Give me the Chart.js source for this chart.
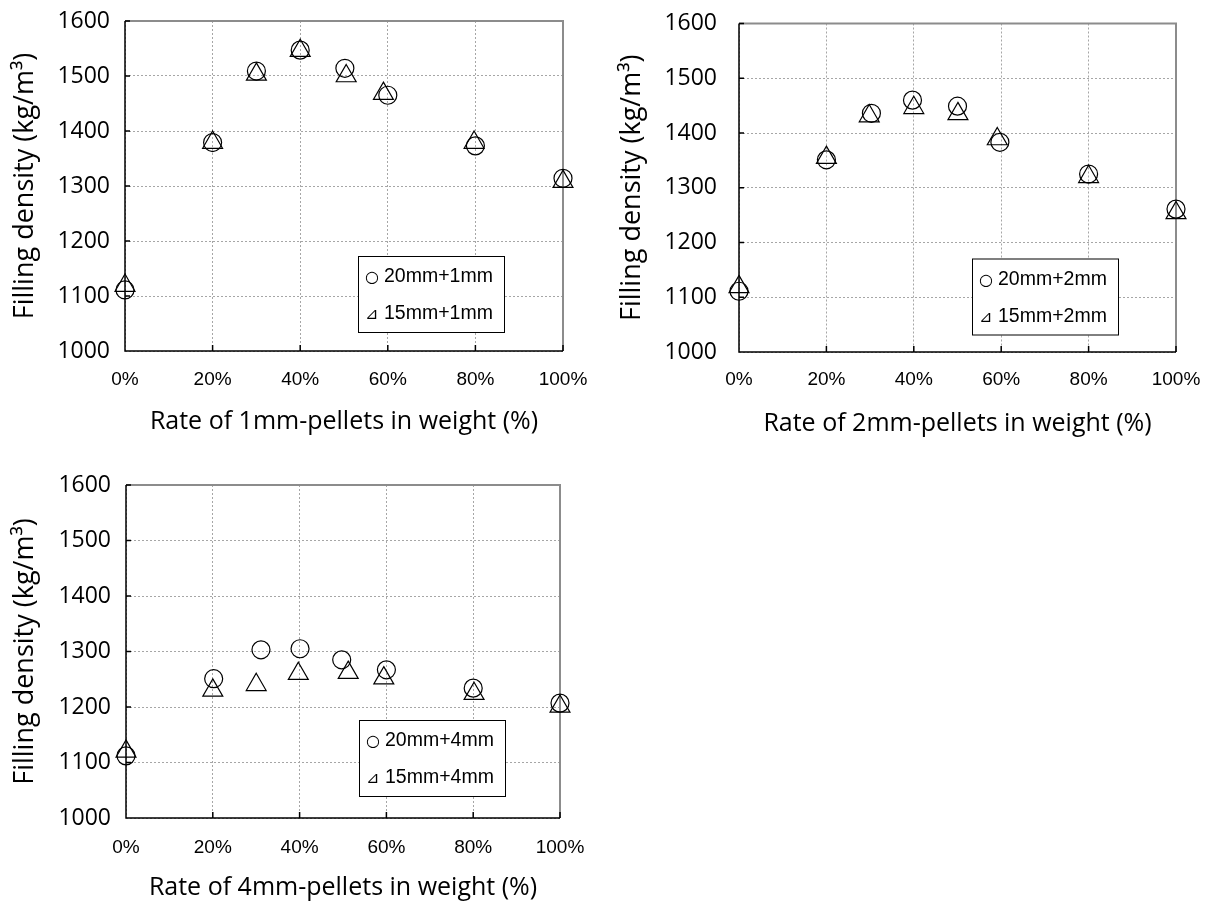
<!DOCTYPE html>
<html>
<head>
<meta charset="utf-8">
<script src="https://cdn.jsdelivr.net/npm/chart.js@4.4.1/dist/chart.umd.min.js"></script>
<style>
body { margin: 0; background: #fff; width: 1206px; height: 903px; position: relative; overflow: hidden; }
canvas { position: absolute; }
</style>
</head>
<body>
<canvas id="c1" width="600" height="450" style="left:0;top:0"></canvas>
<canvas id="c2" width="600" height="450" style="left:606px;top:0"></canvas>
<canvas id="c3" width="600" height="443" style="left:0;top:460px"></canvas>
<script>
// values (x = rate in %, y = filling density kg/m3)
const yTicks = [1000, 1100, 1200, 1300, 1400, 1500, 1600];
const xTicks = [0, 20, 40, 60, 80, 100];

// 1 mm pellets
const x20_1 = [0, 20, 30, 40, 50.2, 60, 80, 100];
const y20_1 = [1111, 1379, 1509, 1547, 1514, 1465, 1373, 1314];
const x15_1 = [0, 20, 30, 40, 50.5, 59, 79.7, 100];
const y15_1 = [1119, 1379, 1503, 1546, 1500, 1468, 1379, 1308];
const labels_1 = ["20mm+1mm", "15mm+1mm"];

// 2 mm pellets
const x20_2 = [0, 20, 30.3, 39.7, 50, 59.7, 80, 100];
const y20_2 = [1111, 1351, 1436, 1460, 1449, 1383, 1325, 1261];
const x15_2 = [0, 20, 29.8, 40, 50.1, 59.1, 80, 100];
const y15_2 = [1119, 1355, 1431, 1446, 1435, 1389, 1320, 1254];
const labels_2 = ["20mm+2mm", "15mm+2mm"];

// 4 mm pellets
const x20_4 = [0, 20.2, 31.1, 40.1, 49.7, 60, 80, 100];
const y20_4 = [1112, 1251, 1303, 1305, 1285, 1267, 1234, 1207];
const x15_4 = [0, 20, 30, 39.7, 51.2, 59.4, 80.2, 100];
const y15_4 = [1120, 1230, 1240, 1260, 1262, 1252, 1224, 1201];
const labels_4 = ["20mm+4mm", "15mm+4mm"];

const symbols = ["○", "⊿"];

function pts(xs, ys) {
    return xs.map((x, i) => ({ x: x, y: ys[i] }));
}

// frame (left/bottom black, top/right gray) with short inside ticks
const framePlugin = {
    id: "frame",
    beforeDatasetsDraw(chart) {
        const a = chart.chartArea;
        const ctx = chart.ctx;
        const xs = chart.scales.x, ys = chart.scales.y;
        ctx.save();
        ctx.strokeStyle = "#8c8c8c";
        ctx.lineWidth = 2;
        ctx.beginPath();
        ctx.moveTo(a.left, a.top);
        ctx.lineTo(a.right, a.top);
        ctx.lineTo(a.right, a.bottom);
        ctx.stroke();
        ctx.strokeStyle = "#000";
        ctx.lineWidth = 1.5;
        ctx.beginPath();
        ctx.moveTo(a.left, a.top);
        ctx.lineTo(a.left, a.bottom);
        ctx.lineTo(a.right, a.bottom);
        xTicks.forEach(v => {
            const px = xs.getPixelForValue(v);
            ctx.moveTo(px, a.bottom);
            ctx.lineTo(px, a.bottom - 6);
        });
        yTicks.forEach(v => {
            const py = ys.getPixelForValue(v);
            ctx.moveTo(a.left, py);
            ctx.lineTo(a.left + 5, py);
        });
        ctx.stroke();
        ctx.restore();
    }
};

// text box legend inside the plot
const boxLegend = {
    id: "boxLegend",
    afterDatasetsDraw(chart, args, opts) {
        const a = chart.chartArea;
        const ctx = chart.ctx;
        const bx = a.left + opts.left, by = a.top + opts.top;
        ctx.save();
        ctx.fillStyle = "#fff";
        ctx.fillRect(bx, by, opts.width, opts.height);
        ctx.strokeStyle = "#000";
        ctx.lineWidth = 1;
        ctx.strokeRect(bx + 0.5, by + 0.5, opts.width, opts.height);
        ctx.fillStyle = "#000";
        ctx.textBaseline = "middle";
        chart.data.datasets.forEach((ds, i) => {
            const ty = by + opts.rows[i];
            ctx.font = "16px 'DejaVu Sans'";
            ctx.fillText(symbols[i], bx + 7, ty + 1);
            ctx.font = "19.5px 'Liberation Sans'";
            ctx.fillText(ds.label, bx + 26, ty);
        });
        ctx.restore();
    }
};

function makeChart(id, xTitle, s20, s15, labels, lay) {
    const ctx = document.getElementById(id).getContext("2d");
    return new Chart(ctx, {
        type: "scatter",
        data: {
            datasets: [{
                label: labels[0],
                data: s20,
                pointStyle: "circle",
                pointRadius: 9,
                borderColor: "#000",
                backgroundColor: "transparent",
                borderWidth: 1.2,
                clip: false
            }, {
                label: labels[1],
                data: s15,
                pointStyle: "triangle",
                pointRadius: 11.5,
                borderColor: "#000",
                backgroundColor: "transparent",
                borderWidth: 1.2,
                clip: false
            }]
        },
        plugins: [framePlugin, boxLegend],
        options: {
            responsive: false,
            animation: false,
            layout: { autoPadding: false, padding: { left: 0, top: lay.top, right: lay.right, bottom: 0 } },
            plugins: {
                legend: { display: false },
                tooltip: { enabled: false },
                boxLegend: { left: 233, top: 235, width: 146, height: 76, rows: [21, 58] }
            },
            scales: {
                x: {
                    type: "linear",
                    min: 0,
                    max: 100,
                    afterFit: s => {
                        s.height = lay.xHeight;
                        s.paddingLeft = 0;
                        s.paddingRight = 0;
                    },
                    afterBuildTicks: s => { s.ticks = xTicks.map(v => ({ value: v })); },
                    grid: { color: "#a6a6a6", lineWidth: 1, drawTicks: false },
                    border: { display: false, dash: [2, 2] },
                    ticks: {
                        padding: lay.xTickPad,
                        color: "#000",
                        font: { family: "'Liberation Sans'", size: 19 },
                        maxRotation: 0,
                        callback: v => v + "%"
                    },
                    title: {
                        display: true,
                        text: xTitle,
                        color: "#000",
                        font: { family: "'Open Sans'", size: 25 },
                        padding: { top: 0, bottom: lay.xTitlePad }
                    }
                },
                y: {
                    min: 1000,
                    max: 1600,
                    afterFit: s => {
                        s.width = lay.yWidth;
                        s.paddingTop = 0;
                        s.paddingBottom = 0;
                    },
                    afterBuildTicks: s => { s.ticks = yTicks.map(v => ({ value: v })); },
                    grid: { color: "#a6a6a6", lineWidth: 1, drawTicks: false },
                    border: { display: false, dash: [2, 2] },
                    ticks: {
                        padding: lay.yTickPad,
                        color: "#000",
                        font: { family: "'Open Sans'", size: 23 },
                        callback: v => String(v)
                    },
                    title: {
                        display: true,
                        text: "Filling density (kg/m³)",
                        color: "#000",
                        font: { family: "'Open Sans'", size: 27 },
                        padding: { top: lay.yTitlePad, bottom: 0 }
                    }
                }
            }
        }
    });
}

makeChart("c1", "Rate of 1mm-pellets in weight (%)", pts(x20_1, y20_1), pts(x15_1, y15_1), labels_1,
    { top: 21, right: 37, yWidth: 125, xHeight: 99, xTickPad: 17, xTitlePad: 13, yTickPad: 15, yTitlePad: 9 });
makeChart("c2", "Rate of 2mm-pellets in weight (%)", pts(x20_2, y20_2), pts(x15_2, y15_2), labels_2,
    { top: 23.5, right: 30, yWidth: 133, xHeight: 98, xTickPad: 16, xTitlePad: 11, yTickPad: 22, yTitlePad: 10 });
makeChart("c3", "Rate of 4mm-pellets in weight (%)", pts(x20_4, y20_4), pts(x15_4, y15_4), labels_4,
    { top: 25, right: 40, yWidth: 126, xHeight: 85, xTickPad: 18, xTitlePad: 0, yTickPad: 15, yTitlePad: 9 });
</script>
</body>
</html>
